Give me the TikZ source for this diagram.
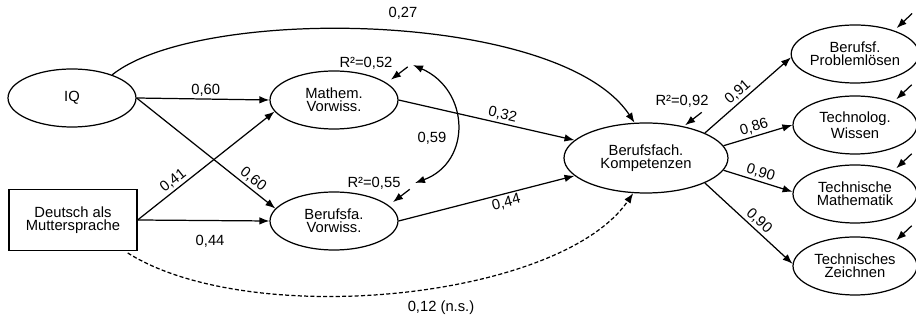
\documentclass[tikz,border=0pt]{standalone}
\usepackage{fontspec}
\setmainfont{Liberation Sans}
\usetikzlibrary{arrows.meta,shapes.geometric}

\tikzset{
  latent/.style={ellipse,draw,line width=0.7pt,inner sep=0pt,
    minimum width=2.56cm,minimum height=1.16cm,align=center},
  indicator/.style={latent,minimum width=2.48cm},
  manifest/.style={rectangle,draw,line width=0.7pt,
    minimum width=2.56cm,minimum height=1.22cm,align=center},
  effect/.style={line width=0.7pt,-{Latex[length=2mm,width=1.5mm]}},
  resid/.style={effect,shorten >=1pt},
  coef/.style={inner sep=1.2pt}
}

\begin{document}
\begin{tikzpicture}[x=0.02cm,y=-0.02cm,font=\fontsize{8.4}{7.6}\selectfont]
  \useasboundingbox (0,0) rectangle (916,320);

  % predictors
  \node[latent] (iq) at (72,98) {IQ};
  \node[manifest] (dam) at (73,220) {Deutsch als\\Muttersprache};

  % prior knowledge
  \node[latent] (mv) at (334,100) {Mathem.\\Vorwiss.};
  \node[latent] (bv) at (334,221) {Berufsfa.\\Vorwiss.};

  % competence factor and its indicators
  \node[latent,minimum width=3.28cm,minimum height=1.4cm] (bk) at (646,158) {Berufsfach.\\Kompetenzen};
  \node[indicator] (bp) at (855,54) {Berufsf.\\Problemlösen};
  \node[indicator] (tw) at (855,125) {Technolog.\\Wissen};
  \node[indicator] (tm) at (855,194) {Technische\\Mathematik};
  \node[indicator] (tz) at (855,266) {Technisches\\Zeichnen};

  % paths into prior knowledge
  \draw[effect] (iq.east) -- node[coef,above,pos=0.52] {0,60} (mv.west);
  \draw[effect] (iq.east) -- node[coef,sloped,above,pos=0.8] {0,60} (bv.168);
  \draw[effect] (dam.east) -- node[coef,sloped,above,pos=0.3] {0,41} (mv.191);
  \draw[effect] (dam.east) -- node[coef,below=2.4mm,pos=0.55] {0,44} (bv.west);

  % paths into the competence factor
  \draw[effect] (mv.east) -- node[coef,sloped,above,pos=0.58] {0,32} (bk.166);
  \draw[effect] (bv.east) -- node[coef,sloped,below,pos=0.6] {0,44} (bk.194);
  \draw[effect] (iq.30) .. controls (200,5) and (560,10) .. (bk.108);
  \node[coef] (c27) at (403,13) {0,27};
  \draw[effect,dash pattern=on 2.3pt off 1.3pt,shorten <=2pt] (dam.-31) .. controls (250,330) and (560,300) .. (bk.250);
  \node[coef] (c12) at (441,308) {0,12 (n.s.)};

  % correlation of prior knowledge
  \coordinate (cv1) at (413,65);
  \coordinate (cv2) at (415,183);
  \draw[line width=0.7pt,{Latex[length=2mm,width=1.5mm]}-{Latex[length=2mm,width=1.5mm]}]
    (cv1) .. controls (470,90) and (472,162) .. (cv2);
  \node[coef] (c59) at (432,138) {0,59};

  % loadings
  \draw[effect] (bk.23) -- node[coef,sloped,above,pos=0.45] {0,91} (bp.183);
  \draw[effect] (bk.9) -- node[coef,sloped,above,pos=0.48] {0,86} (tw.west);
  \draw[effect] (bk.-9) -- node[coef,sloped,above,pos=0.5] {0,90} (tm.178);
  \draw[effect] (bk.-23) -- node[coef,sloped,above,pos=0.55] {0,90} (tz.178);

  % residuals
  \draw[resid,shorten >=3pt] ([shift={(21,-16)}]mv.18) -- (mv.18);
  \node (r52) at (366,63) {R²=0,52};
  \draw[resid,shorten >=3pt] ([shift={(21,-16)}]bv.16) -- (bv.16);
  \node (r55) at (374,183) {R²=0,55};
  \draw[resid] ([shift={(18,-14)}]bk.40) -- (bk.40);
  \node (r92) at (682,101) {R²=0,92};
  \draw[resid,shorten >=2pt] ([shift={(18,-17)}]bp.31) -- (bp.31);
  \draw[resid,shorten >=2pt] ([shift={(18,-17)}]tw.31) -- (tw.31);
  \draw[resid,shorten >=2pt] ([shift={(18,-17)}]tm.31) -- (tm.31);
  \draw[resid,shorten >=2pt] ([shift={(18,-17)}]tz.31) -- (tz.31);
\end{tikzpicture}
\end{document}
